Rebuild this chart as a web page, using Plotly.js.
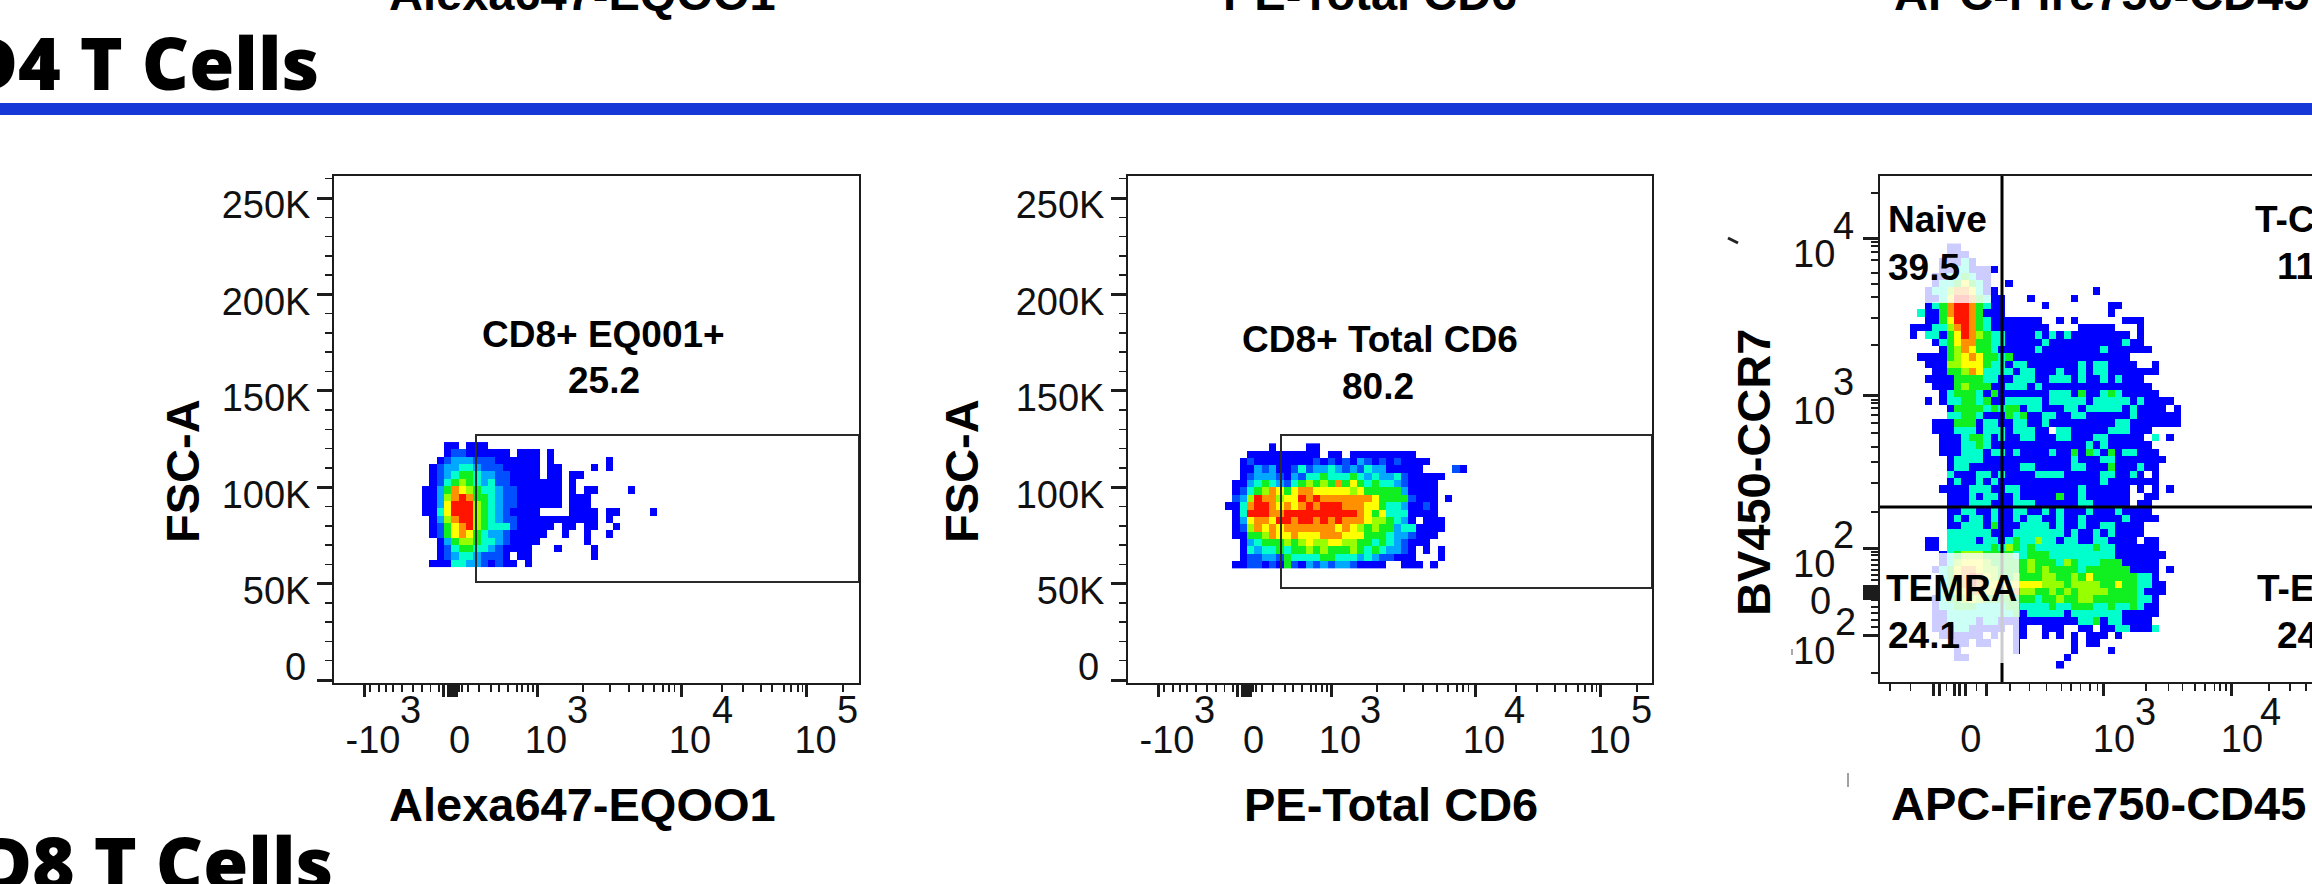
<!DOCTYPE html>
<html><head><meta charset="utf-8">
<script src="https://cdn.plot.ly/plotly-3.0.1.min.js"></script>
<style>html,body{margin:0;padding:0;background:#fff;overflow:hidden}#p{width:2312px;height:884px}</style>
</head><body><div id="p"></div><script>
// density levels (1 = lowest, 9 = highest, 0 = no events); spaces are only for reading
const eq001Rows=[
"000110111","000 1 22 111111 0 111 0 1","00 1 2 333 222 111111 0 1 0000000 1","0 12 33 44 3 222 11111 0 11 0000 1 0 1",
"0 1234 55 4 33 22 1111 0 11 0 11","0 12 4 5 6 5 4 3 4 22 1111111 0 1","11 3 5 8 7 6 5 44 3 22 111111 0 1 0 11 0000 1",
"11 3 6 8 9 8 5 5 4 3 22 111111 0 111","11 3 7 999 6 5 4 3 22 111111 0 111","11 4 7 999 6 5 4 3 2 1111 0000 1111 0 11 0000 1",
"0 1 3 6 8 99 6 5 4 3 22 11111111111 0 1","0 1 2 5 7 8 9 6 5 444 2 11111 0 11 0 11 00 1","0 1 2 5 7 8 7 5 4 3 3 2 11111 00 1 00 1 00 1",
"00 1 3 5 66 5 44 3 2 1111 000000 1","00 1 2 4 55 44 3 2 1 111 000 1 0000 1","00 1 2 3 44 3 222 1 0 11 00000000 1","0 111 44 33 2 1 2 11 0 1"];
const totalCd6Rows=[
"000000 1 0000 11","000 1111111111 0 11 0 111111111",
"00 1 2 1 1 1 1 1 1 1 1 2 1 2 1 2 1 3 2 1 2 1 2 1 1 1 1",
"00 1 1 3 2 3 1 1 2 4 2 3 3 4 3 2 3 2 4 3 3 1 1 1 1 1 0 0 0 0 2 1",
"00 1 2 3 3 3 2 1 3 2 4 4 5 4 4 4 5 4 3 4 3 3 4 2 1 1 1 1 1",
"0 1 1 3 4 5 4 3 2 4 5 6 5 6 5 8 5 7 5 4 5 4 4 3 2 1 1 1 1",
"0 1 2 4 5 6 8 7 5 7 8 8 7 7 7 7 7 6 7 5 5 5 5 5 3 1 1 1 1",
"0 2 3 6 9 8 8 6 7 7 9 8 9 8 8 8 8 8 8 8 7 5 5 5 5 2 1 1 1 0 1",
"1 1 4 8 9 9 8 7 8 7 8 9 8 9 9 9 8 8 8 7 7 5 4 4 3 1 1 2 1",
"0 1 4 9 9 9 8 8 9 9 9 9 9 9 9 9 9 9 8 7 5 7 4 4 4 1 1 1 1",
"0 1 3 7 8 8 7 9 9 8 9 9 8 9 8 9 8 8 8 7 6 6 5 4 3 1 0 1 1 1",
"0 1 2 6 8 7 8 7 8 8 8 8 8 8 8 7 8 7 6 5 6 5 5 3 4 4 1 1 1 1",
"0 1 1 5 5 6 8 7 7 8 7 7 7 8 8 8 7 7 7 5 5 5 4 3 3 2 1 1 1",
"0 0 1 3 4 5 5 5 6 5 6 7 6 6 7 7 6 6 5 5 4 5 4 3 2 1 1 1",
"0 0 1 4 3 4 4 5 4 5 5 6 5 6 5 5 5 6 5 4 5 4 3 3 2 1 0 1 0 1",
"0 0 1 2 2 3 3 2 5 4 4 4 4 5 5 4 4 4 3 4 3 2 2 1 1 1 0 0 0 1",
"0 1 1 2 2 1 2 1 5 2 1 3 2 3 2 3 3 2 1 1 1 1 0 0 1 1 1 0 1"];
const ccr7Rows=[
"0000011","00000111","000011141","000011441111","00011445411","00014457541 001",
"001446887411 0000000000000 1","0011479985411 000 1 00000 1","0014589985411 00000 1 00000000 11",
"0411589985111 00000000000000 1","0011579985411 11111 00 1 0 1 000000 111","1114468985411 111111 0000 11111 000 1",
"1044157986544 1111 4 1 4 1 4 1 1111111 0 1","0001457885544 11111 4 1111111111 4 11","0000156875541 1111 4 11111111 4 111111",
"0111156787554 5 1111111111111111","0011166777544 1 44 1111111 4 1 44 1111 00 1","0001155687444 4 1 44 111 4 11 4 1 44 1111111",
"0011115555441 1 444 11 444 1 4 11 4 1 4 111","0001115655511 444 1 4 111111111111111","0000145554151 111111 444 1 5 11 4 5 4 11111",
"0010144554511 44444 1 44444 1 44444 1 4 1111","0000015555454 55 1 44 111 44 1 44444 1 4 1111 0 1","0000044554111 5 4 5 11 44 11 44 111111 4 111111",
"0001115551441 1 44 11 4 111111111 44 1111111","0001114441444 1 444 11 0 44 11111 444 111","0000111455414 11 44 111 44 111 44 11111 0 4 0 1",
"0000111445411 11111111111 4 1 4 111111","0000111444144 1 4 1111 4 11 5 1 5 4 1 5 1 44 111","0000014444111 111111111 4 111 44 1111111",
"0000014411111 11 44 11111 44 111 5 111 4 11","0000041114414 1111 4444 11111 44 11 4 1 0 1","0000014114141 1111111111111 4 1111111",
"0000111144411 44 11111111 4 111111 0 1 0 1 0 1","0000011141441 1 4 11111 5 11 4 111111 00 11","0000011144411 1 444 111111 44 11111 0 11",
"0000011441141 1 44 11 4 1 4 111 4 111 4 1111","0000014144141 1 4 1 44 11 4 11 4 11111 4 1111","0000011444151 11 4444 1 4 11 4 11 44 1111",
"0000044444411 1 4444444 1 4 11 4 1 4 1111","0011044441441 4 5 44 6 44 1 44 11 44 1111 0 11","0011044444454 6 5 4 5 44444444 5 44 111111",
"0000145666555 5 44 555 444444444 1111111","0000146777655 555 6 555 4 6 5 444 555 11111","0001457887665 555 6 5 6 5555 4 555555 1111 0 1",
"0000457898765 5 6 555 66 55 6 5 7 555555 44 1","0000457898777 77777 666 5 6666 55 7 55 44 11","0000456788766 7 8 66 55 6 5 6 5 6666 5555 4 111",
"0001455676555 5555 4 55 6 55 66 555555 44 1","0001445554444 55 4444 5 44 555 44 5 44 5 4 11","0001144444444 4 5 1 44444 1 4444444 11111",
"0001144441441 1111111111 44 5 1 44 1111","0001114411111 0 11 00 111 00 11 0 11 44 111 4","0000111111010 0 11 00 1 0 1 0 1 0 111 0 1",
"0000001101100 0 1 0000000 1 0 11","000000 1 0000000 1 0000000 1 0000 1","00000011 0000000000000 1","00000000000000000000 1"];

const densityColors=["#0000ff","#0050ff","#00a8ff","#00ffcc","#10f020","#98ff00","#ffff00","#ff9000","#ff1400"];

// axis ticks: FSC-A (linear) and fluorescence channel positions (biexponential display)
const fscMajor=[0,50000,100000,150000,200000,250000];
const fscLabels=["","50K","100K","150K","200K","250K"];
const fscMinor=[10000,20000,30000,40000,60000,70000,80000,90000,110000,120000,130000,140000,160000,170000,180000,190000,210000,220000,230000,240000,260000];
const fluorMajor=[32,111,116,118.6,121.5,124,205,349,474.6];
const fluorLabels=["-10","","","0","","","10","10","10"];
const fluorMinor=[38,47,54,61,70,81,90,98.5,107,127,130,136,147,159,167,176,185,190,196,201,251,278,297,311,322,331,337,342.5,390,411,429,440,452,459,466,470.5,511];
const cd45Major=[55,61,76,81.7,87.4,108,225,353];
const cd45Labels=["","","","0","","","10","10"];
const cd45Minor=[12,32.6,68.5,98.7,132,151.5,168.5,183.6,193,202.5,212,219.5,268,290.5,304.4,317,327,336.5,342,348,391,412,428];
const ccr7Major=[47,84,87,90,93,96,134,287,444];
const ccr7Labels=["10","","","","","","10","10","10"];
const ccr7Minor=[9,55,62,69,75,82,102,107,112,117,122,127,130,170,199,220,235,249,259,267,274,279,282,337,364,385,398,409,422,430,436,440,489];

const W=2312,H=884,CELL=7.33,FSC_PER_PX=50000/96.4;
const fsc=py=>(680-py)*FSC_PER_PX;
const parseRows=rows=>rows.map(r=>{const c=r.replace(/\s/g,"").split("").map(Number);return c.map(v=>v===0?null:v);}).reverse();
const cs=densityColors.map((c,i)=>[i/8,c]);
const heat=(rows,xa,ya,x0,y0,dy)=>({type:"heatmap",z:parseRows(rows),xaxis:xa,yaxis:ya,x0:x0,dx:CELL,y0:y0,dy:dy,
  zmin:1,zmax:9,colorscale:cs,showscale:false,zsmooth:false,hoverongaps:false});
const traces=[
 heat(eq001Rows,"x","y",93.67,fsc(563),CELL*FSC_PER_PX),
 heat(totalCd6Rows,"x2","y2",102.67,fsc(564.3),CELL*FSC_PER_PX),
 heat(ccr7Rows,"x3","y3",35.67,17,CELL)
];
const LINE="#1c1c1c",TXT="#111";
const minor=vals=>({tickmode:"array",tickvals:vals,ticks:"outside",ticklen:7,tickwidth:1.5,tickcolor:LINE,showgrid:false});
const axisBase={showgrid:false,zeroline:false,showline:true,linecolor:LINE,linewidth:2,ticks:"outside",tickcolor:LINE,tickwidth:3,
  tickmode:"array",tickangle:0,tickfont:{family:"Liberation Sans, Arial, sans-serif",size:38,color:TXT},automargin:false,fixedrange:true};
const xAxis=(l,r,range,vals,labels,mins,shift)=>Object.assign({},axisBase,{domain:[l/W,r/W],range:range,tickvals:vals,ticktext:labels,
  ticklen:12,minor:minor(mins),mirror:true,ticklabelstandoff:10,ticklabelshift:shift});
const yAxis=(range,top,bot,vals,labels,mins,mirror,shift,off)=>Object.assign({},axisBase,{domain:[1-bot/H,1-top/H],range:range,tickvals:vals,ticktext:labels,
  ticklen:15,minor:minor(mins),mirror:mirror,ticklabelstandoff:off,ticklabelshift:shift});
const fscRange=[fsc(683),fsc(176)];

const A=[];
const T=(px,py,text,size,bold,anchor,angle)=>A.push({xref:"paper",yref:"paper",x:px/W,y:1-py/H,text:text,showarrow:false,
  xanchor:anchor||"center",yanchor:"middle",borderpad:0,textangle:angle||0,
  font:{family:"Liberation Sans, Arial, sans-serif",size:size,color:bold?"#000":TXT,weight:bold?700:400}});
const H1={family:"Noto Sans, sans-serif",size:73,color:"#000",weight:900};
A.push({xref:"paper",yref:"paper",x:320/W,y:1-62/H,text:"CD4 T Cells",showarrow:false,xanchor:"right",yanchor:"middle",borderpad:0,font:H1});
A.push({xref:"paper",yref:"paper",x:334/W,y:1-861/H,text:"CD8 T Cells",showarrow:false,xanchor:"right",yanchor:"middle",borderpad:0,font:H1});
// clipped axis titles of the panels above
T(582,-7,"Alexa647-EQOO1",47,true);T(1370,-7,"PE-Total CD6",47,true);T(1893,-7,"APC-Fire750-CD45",47,true,"left");
// axis titles
T(582,804,"Alexa647-EQOO1",47,true);T(1391,804,"PE-Total CD6",47,true);T(1890,803,"APC-Fire750-CD45",47,true,"left");
T(182,471,"FSC-A",47,true,"center",-90);T(961,471,"FSC-A",47,true,"center",-90);T(1753,473,"BV450-CCR7",47,true,"center",-90);
// exponents and zero labels
[[410,"3"],[577,"3"],[722,"4"],[847,"5"]].forEach(e=>T(e[0],710,e[1],38));
[[1204,"3"],[1370,"3"],[1514,"4"],[1641,"5"]].forEach(e=>T(e[0],710,e[1],38));
T(2145,712,"3",38);T(2270,712,"4",38);
T(1843,226,"4",38);T(1843,382,"3",38);T(1843,535,"2",38);T(1845,622,"2",38);
T(307,667,"0",38,false,"right");T(1100,667,"0",38,false,"right");T(1832,601,"0",38,false,"right");
// gate labels
T(603,334,"CD8+ EQ001+",37,true);T(604,380,"25.2",37,true);
T(1380,339,"CD8+ Total CD6",37,true);T(1378,386,"80.2",37,true);
T(1887,219,"Naive",37,true,"left");T(1887,267,"39.5",37,true,"left");
T(1885,588,"TEMRA",37,true,"left");T(1887,635,"24.1",37,true,"left");
T(2254,219,"T-CM",37,true,"left");T(2276,266,"11.9",37,true,"left");
T(2256,588,"T-EM",37,true,"left");T(2276,635,"24.5",37,true,"left");

const gateLine={color:"#2a2a2a",width:2};
const shapes=[
 {type:"rect",xref:"paper",yref:"paper",x0:0,x1:1,y0:1-115/H,y1:1-103/H,fillcolor:"#1538d6",line:{width:0},layer:"above"},
 {type:"rect",xref:"x",yref:"y",x0:144,x1:527,y0:fsc(582),y1:fsc(435),line:gateLine},
 {type:"rect",xref:"x2",yref:"y2",x0:155,x1:526,y0:fsc(588),y1:fsc(435),line:gateLine},
 {type:"line",xref:"x3",yref:"y3",x0:124,x1:124,y0:0,y1:506,line:{color:"#000",width:3}},
 {type:"line",xref:"x3",yref:"y3",x0:2,x1:434,y0:175,y1:175,line:{color:"#000",width:3}},
 // translucent label backings
 {type:"rect",xref:"x3",yref:"y3",x0:45,x1:113,y0:379,y1:445,fillcolor:"rgba(255,255,255,0.8)",line:{width:0}},
 {type:"rect",xref:"x3",yref:"y3",x0:52,x1:141,y0:19,y1:129,fillcolor:"rgba(255,255,255,0.8)",line:{width:0}},
 // stray specks at the crop of neighbouring labels
 {type:"line",xref:"paper",yref:"paper",x0:1848/W,x1:1848/W,y0:1-787/H,y1:1-773/H,line:{color:"#444",width:1}},
 {type:"line",xref:"paper",yref:"paper",x0:1728/W,x1:1738/W,y0:1-238/H,y1:1-243/H,line:{color:"#222",width:3}},
 {type:"line",xref:"paper",yref:"paper",x0:1792/W,x1:1792/W,y0:1-655/H,y1:1-649/H,line:{color:"#555",width:1}}
];

const layout={width:W,height:H,margin:{l:0,r:0,t:0,b:0},paper_bgcolor:"#fff",plot_bgcolor:"#fff",showlegend:false,
 xaxis:xAxis(334,859,[2,527],fluorMajor,fluorLabels,fluorMinor,9),
 xaxis2:xAxis(1128,1652,[2,526],fluorMajor,fluorLabels,fluorMinor,9),
 xaxis3:xAxis(1880,W,[2,434],cd45Major,cd45Labels,cd45Minor,11),
 yaxis:yAxis(fscRange,176,683,fscMajor,fscLabels,fscMinor,true,7,-1),
 yaxis2:yAxis(fscRange,176,683,fscMajor,fscLabels,fscMinor,true,7,-1),
 yaxis3:yAxis([0,506],176,682,ccr7Major,ccr7Labels,ccr7Minor,false,16,20),
 annotations:A,shapes:shapes};
layout.xaxis.anchor="y";layout.xaxis2.anchor="y2";layout.xaxis3.anchor="y3";
layout.yaxis.anchor="x";layout.yaxis2.anchor="x2";layout.yaxis3.anchor="x3";
Plotly.newPlot("p",traces,layout,{displayModeBar:false,staticPlot:true});
</script></body></html>
